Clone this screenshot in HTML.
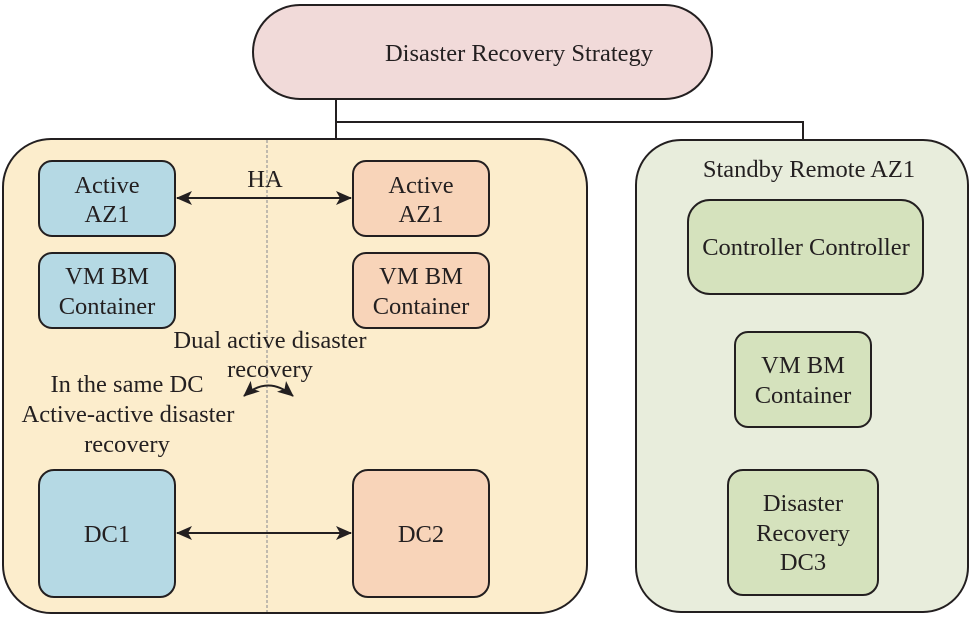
<!DOCTYPE html>
<html><head><meta charset="utf-8"><style>
html,body{margin:0;padding:0;background:#fff;}
svg text{font-family:"Liberation Serif","Times New Roman",serif;font-size:24.5px;fill:#231f20;}
</style></head><body>
<svg width="973" height="618" viewBox="0 0 973 618" xmlns="http://www.w3.org/2000/svg" font-family="Liberation Serif, serif">
<defs>
<marker id="a" markerWidth="16" markerHeight="14" refX="15" refY="7" orient="auto-start-reverse" markerUnits="userSpaceOnUse"><path d="M0,0 L16,7 L0,14 L4,7 Z" fill="#231f20"/></marker>
</defs>
<path d="M336,99 V139 M336,122 H803 V139" stroke="#231f20" stroke-width="2" fill="none"/>
<rect x="253" y="5" width="459" height="94" rx="47" fill="#f1dad9" stroke="#231f20" stroke-width="2"/>
<text x="519" y="61" text-anchor="middle">Disaster Recovery Strategy</text>
<rect x="3" y="139" width="584" height="474" rx="48" fill="#fcedcc" stroke="#231f20" stroke-width="2"/>
<line x1="267" y1="140" x2="267" y2="612" stroke="#999" stroke-width="1.2" stroke-dasharray="3,2"/>
<rect x="636" y="140" width="332" height="472" rx="45" fill="#e8eddc" stroke="#231f20" stroke-width="2"/>
<text x="809" y="177" text-anchor="middle">Standby Remote AZ1</text>
<rect x="39" y="161" width="136" height="75" rx="13" fill="#b5d9e4" stroke="#231f20" stroke-width="2"/>
<text x="107" y="193" text-anchor="middle">Active</text><text x="107" y="222" text-anchor="middle">AZ1</text>
<rect x="39" y="253" width="136" height="75" rx="13" fill="#b5d9e4" stroke="#231f20" stroke-width="2"/>
<text x="107" y="284" text-anchor="middle">VM BM</text><text x="107" y="314" text-anchor="middle">Container</text>
<rect x="39" y="470" width="136" height="127" rx="15" fill="#b5d9e4" stroke="#231f20" stroke-width="2"/>
<text x="107" y="542" text-anchor="middle">DC1</text>
<rect x="353" y="161" width="136" height="75" rx="13" fill="#f8d4b9" stroke="#231f20" stroke-width="2"/>
<text x="421" y="193" text-anchor="middle">Active</text><text x="421" y="222" text-anchor="middle">AZ1</text>
<rect x="353" y="253" width="136" height="75" rx="13" fill="#f8d4b9" stroke="#231f20" stroke-width="2"/>
<text x="421" y="284" text-anchor="middle">VM BM</text><text x="421" y="314" text-anchor="middle">Container</text>
<rect x="353" y="470" width="136" height="127" rx="15" fill="#f8d4b9" stroke="#231f20" stroke-width="2"/>
<text x="421" y="542" text-anchor="middle">DC2</text>
<line x1="177" y1="198" x2="351" y2="198" stroke="#231f20" stroke-width="2" marker-start="url(#a)" marker-end="url(#a)"/>
<text x="265" y="187" text-anchor="middle">HA</text>
<line x1="177" y1="533" x2="351" y2="533" stroke="#231f20" stroke-width="2" marker-start="url(#a)" marker-end="url(#a)"/>
<text x="270" y="348" text-anchor="middle">Dual active disaster</text>
<text x="270" y="377" text-anchor="middle">recovery</text>
<path d="M244,396 Q268,375 293,396" stroke="#231f20" stroke-width="2" fill="none" marker-start="url(#a)" marker-end="url(#a)"/>
<text x="127" y="392" text-anchor="middle">In the same DC</text>
<text x="128" y="422" text-anchor="middle">Active-active disaster</text>
<text x="127" y="452" text-anchor="middle">recovery</text>
<rect x="688" y="200" width="235" height="94" rx="22" fill="#d5e2bd" stroke="#231f20" stroke-width="2"/>
<text x="806" y="255" text-anchor="middle">Controller Controller</text>
<rect x="735" y="332" width="136" height="95" rx="13" fill="#d5e2bd" stroke="#231f20" stroke-width="2"/>
<text x="803" y="373" text-anchor="middle">VM BM</text><text x="803" y="403" text-anchor="middle">Container</text>
<rect x="728" y="470" width="150" height="125" rx="15" fill="#d5e2bd" stroke="#231f20" stroke-width="2"/>
<text x="803" y="511" text-anchor="middle">Disaster</text><text x="803" y="541" text-anchor="middle">Recovery</text><text x="803" y="570" text-anchor="middle">DC3</text>
</svg>
</body></html>
